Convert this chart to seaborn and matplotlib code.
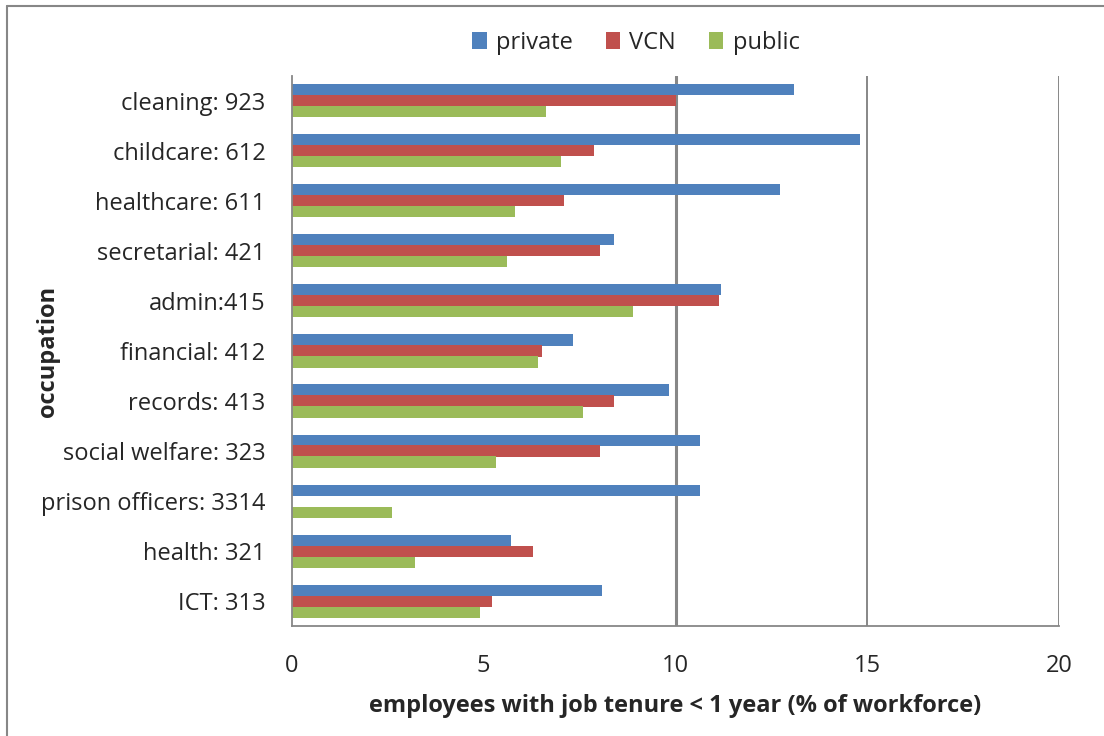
import numpy as np
import pandas as pd
import matplotlib
matplotlib.use("Agg")
import matplotlib.pyplot as plt
import seaborn as sns
from matplotlib.lines import Line2D
from matplotlib.patches import Patch

occupations = ["cleaning: 923", "childcare: 612", "healthcare: 611", "secretarial: 421",
               "admin:415", "financial: 412", "records: 413", "social welfare: 323",
               "prison officers: 3314", "health: 321", "ICT: 313"]
private = [13.09, 14.81, 12.72, 8.40, 11.19, 7.33, 9.83, 10.64, 10.64, 5.71, 8.08]
vcn = [10.0, 7.87, 7.09, 8.03, 11.13, 6.52, 8.40, 8.03, np.nan, 6.28, 5.22]
public = [6.62, 7.01, 5.81, 5.61, 8.89, 6.41, 7.59, 5.32, 2.61, 3.21, 4.90]
sectors = ["private", "VCN", "public"]
colors = ["#4F81BD", "#C0504D", "#9BBB59"]
xticks = [0, 5, 10, 15, 20]
gridlines = [10, 15, 20]

df = pd.DataFrame({
    "occupation": occupations * 3,
    "value": private + vcn + public,
    "sector": [s for s in sectors for _ in occupations],
})

sns.set_style("white")
plt.rcParams['font.family'] = ['Open Sans', 'DejaVu Sans']
FS = 17

fig = plt.figure(figsize=(11.04, 7.36), dpi=100)
ax = fig.add_axes([292/1104, 110/736, (1059-292)/1104, (626-76)/736])

for g in gridlines:
    ax.axvline(g, color="#878787", linewidth=2.2 if g == 10 else 1.4, zorder=0)

sns.barplot(data=df, y="occupation", x="value", hue="sector", orient="h",
            order=occupations, hue_order=sectors, palette=colors,
            saturation=1, width=0.66, errorbar=None, ax=ax, legend=False,
            linewidth=0, edgecolor="none", zorder=3)

ax.set_xlim(0, 20)
ax.set_ylim(len(occupations) - 0.5, -0.5)
ax.set_xticks(xticks)
ax.set_xticklabels([str(t) for t in xticks], fontsize=FS)
ax.set_xticks([0] + gridlines, minor=True)
ax.tick_params(axis="x", which="major", length=0, pad=20)
ax.tick_params(axis="x", which="minor", length=9, color="#878787", width=1.3)

ax.set_yticks(range(len(occupations)))
ax.set_yticklabels(occupations, fontsize=FS)
ax.set_yticks(np.arange(-0.5, len(occupations)), minor=True)
ax.tick_params(axis="y", which="major", length=0, pad=19)
ax.tick_params(axis="y", which="minor", length=9, color="#878787", width=1.3)

for side in ["top", "right"]:
    ax.spines[side].set_visible(False)
for side in ["left", "bottom"]:
    ax.spines[side].set_color("#878787")
    ax.spines[side].set_linewidth(1.3)
    ax.spines[side].set_zorder(4)

ax.set_xlabel("employees with job tenure < 1 year (% of workforce)", fontsize=FS,
              fontweight="bold", labelpad=12)
ax.set_ylabel("occupation", fontsize=FS, fontweight="bold")
ax.yaxis.set_label_coords(-0.302, 0.5)

handles = [Patch(facecolor=c, edgecolor="none") for c in colors]
fig.legend(handles, sectors, loc="center", bbox_to_anchor=(636/1104, 1 - 43/736),
           ncol=3, frameon=False, fontsize=FS, handlelength=0.6, handleheight=0.75,
           handletextpad=0.4, columnspacing=1.4)

# outer chart frame
fig.add_artist(Line2D([7/1104, 7/1104], [0, 1 - 6/736], transform=fig.transFigure,
                      color="#878787", linewidth=1.5))
fig.add_artist(Line2D([7/1104, 1], [1 - 6/736, 1 - 6/736], transform=fig.transFigure,
                      color="#878787", linewidth=1.5))

fig.savefig("out.png", dpi=100)
